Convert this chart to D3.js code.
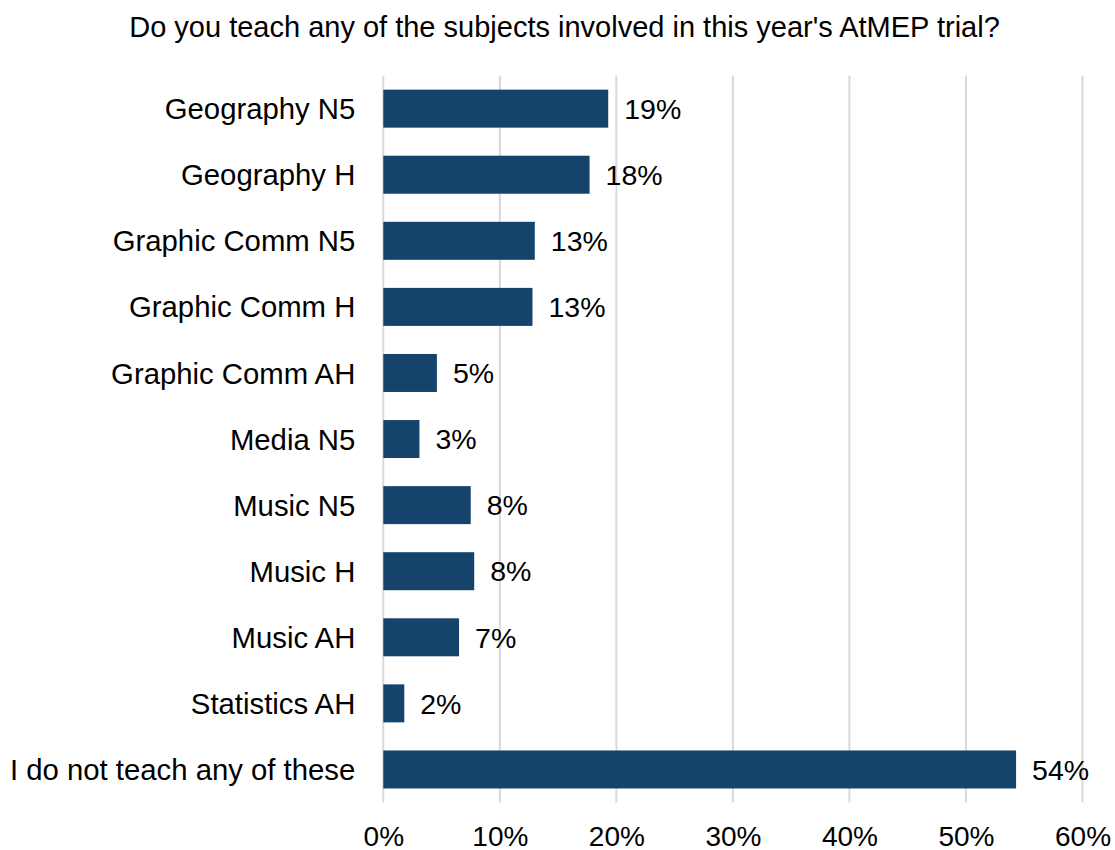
<!DOCTYPE html>
<html>
<head>
<meta charset="utf-8">
<script src="https://cdn.jsdelivr.net/npm/d3@7"></script>
<style>
  html, body { margin: 0; padding: 0; background: #ffffff; }
  svg { display: block; }
  text { font-family: "Liberation Sans", Arial, sans-serif; fill: #000000; }
</style>
</head>
<body>
<svg id="chart" width="1115" height="850"></svg>
<script>
// Survey answers: share of respondents teaching each subject
const subjects = [
  "Geography N5",
  "Geography H",
  "Graphic Comm N5",
  "Graphic Comm H",
  "Graphic Comm AH",
  "Media N5",
  "Music N5",
  "Music H",
  "Music AH",
  "Statistics AH",
  "I do not teach any of these"
];
const shares = [19.3, 17.7, 13.0, 12.8, 4.6, 3.1, 7.5, 7.8, 6.5, 1.8, 54.3];
const tickValues = [0, 10, 20, 30, 40, 50, 60];
const title = "Do you teach any of the subjects involved in this year's AtMEP trial?";

const svg = d3.select("#chart");
const margin = { top: 75.6, right: 32.5, bottom: 47.5, left: 383.3 };
const W = 1115, H = 850;
const innerW = W - margin.left - margin.right;
const innerH = H - margin.top - margin.bottom;

const x = d3.scaleLinear().domain([0, 60]).range([0, innerW]);
const y = d3.scaleBand().domain(subjects).range([0, innerH])
  .paddingInner(0.425).paddingOuter(0.2125);

const g = svg.append("g").attr("transform", `translate(${margin.left},${margin.top})`);

// Vertical gridlines
g.append("g").selectAll("line").data(tickValues).join("line")
  .attr("x1", d => x(d)).attr("x2", d => x(d))
  .attr("y1", 0).attr("y2", innerH)
  .attr("stroke", "#d9d9d9").attr("stroke-width", 2);

// Bars
const rows = subjects.map((s, i) => ({ subject: s, value: shares[i] }));
g.append("g").selectAll("rect").data(rows).join("rect")
  .attr("x", x(0))
  .attr("y", d => y(d.subject))
  .attr("width", d => x(d.value) - x(0))
  .attr("height", y.bandwidth())
  .attr("fill", "#15436b");

// Value labels
g.append("g").selectAll("text").data(rows).join("text")
  .attr("x", d => x(d.value) + 16)
  .attr("y", d => y(d.subject) + y.bandwidth() / 2)
  .attr("dy", "0.36em")
  .attr("font-size", 28.5)
  .text(d => Math.round(d.value) + "%");

// Category axis labels
const yAxis = d3.axisLeft(y).tickSize(0).tickPadding(28);
const yg = g.append("g").call(yAxis);
yg.select(".domain").remove();
yg.selectAll("text").attr("font-size", 29.3).attr("font-family", null).attr("fill", "#000")
  .attr("dy", "0.36em");

// Percentage axis labels
const xAxis = d3.axisBottom(x).tickValues(tickValues).tickSize(0).tickPadding(0)
  .tickFormat(d => d + "%");
const xg = g.append("g").attr("transform", `translate(0,${innerH})`).call(xAxis);
xg.select(".domain").remove();
xg.selectAll("text").attr("font-size", 28).attr("font-family", null).attr("fill", "#000")
  .attr("dy", null).attr("y", 43);

// Title
svg.append("text")
  .attr("x", 564.5).attr("y", 37)
  .attr("text-anchor", "middle")
  .attr("font-size", 29)
  .text(title);
</script>
</body>
</html>
